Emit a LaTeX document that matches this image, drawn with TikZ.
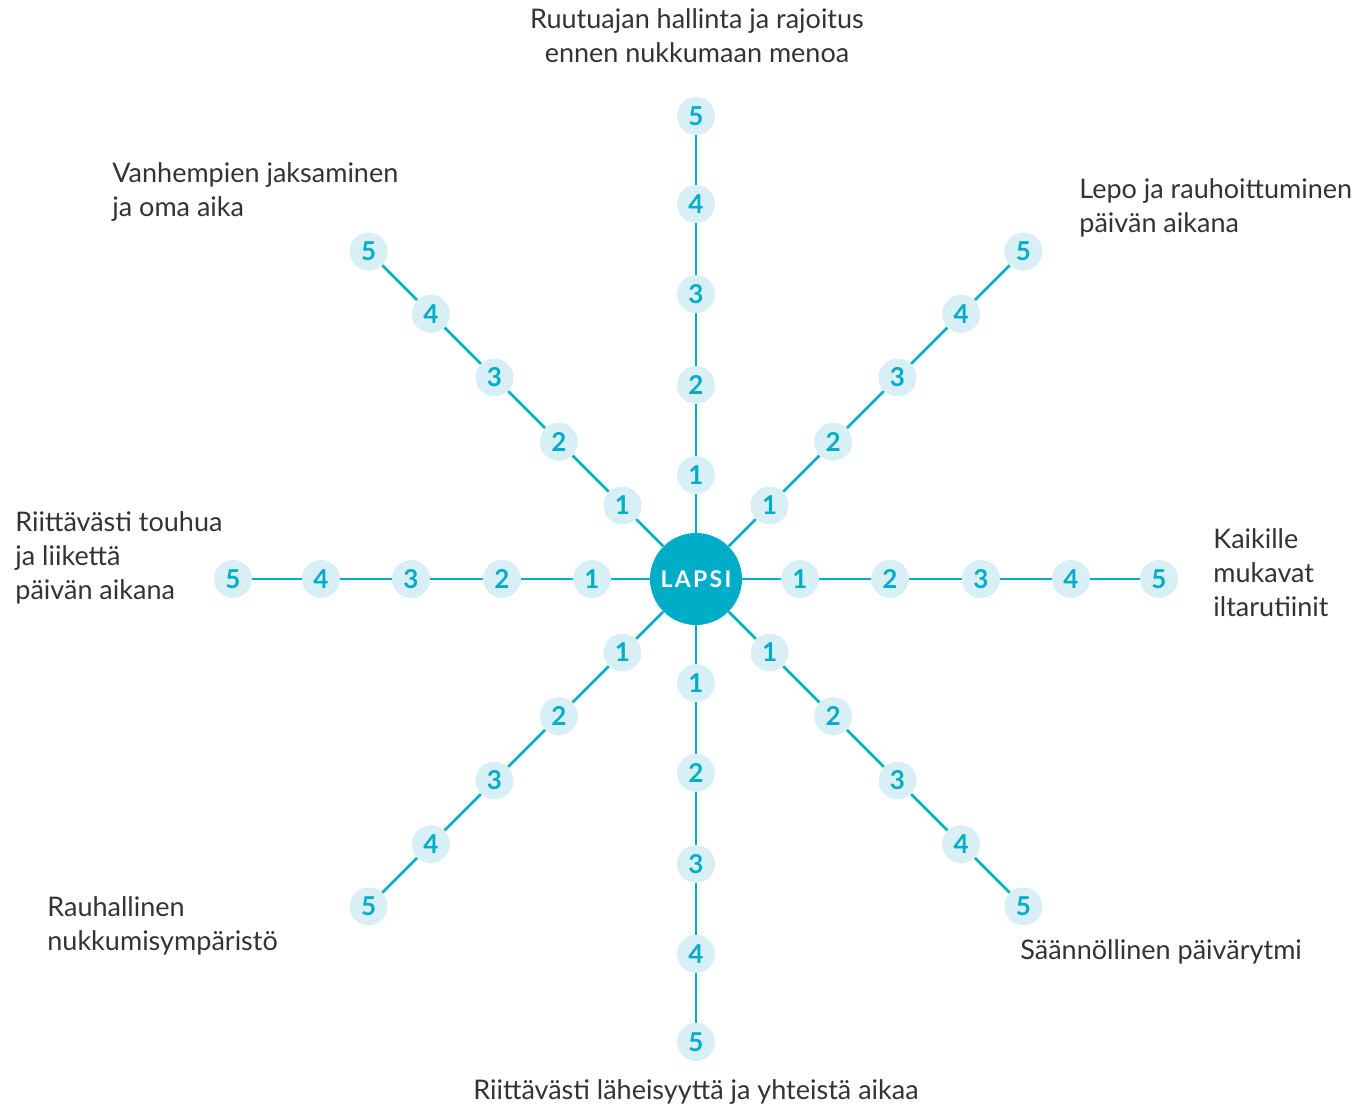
\documentclass[tikz,border=0pt]{standalone}
\usepackage{fontspec}
\setmainfont{Lato}
\usetikzlibrary{positioning}
\definecolor{lapsiteal}{HTML}{00ADC9}
\definecolor{dotfill}{HTML}{D8F0F5}
\definecolor{labelgrey}{HTML}{333333}
\tikzset{
  spoke/.style={draw=lapsiteal, line width=1.3pt},
  dot/.style={circle, fill=dotfill, minimum size=19pt, inner sep=0pt, text=lapsiteal, font=\bfseries\fontsize{13pt}{13pt}\selectfont},
  hub/.style={circle, fill=lapsiteal, minimum size=46pt, inner sep=0pt, text=white, font=\bfseries\fontsize{11.5pt}{11.5pt}\selectfont\addfontfeature{LetterSpace=10}},
  theme/.style={inner sep=0pt, text=labelgrey, align=left, font=\fontsize{13.5pt}{17pt}\selectfont}
}
\begin{document}
\begin{tikzpicture}[x=0.5pt, y=-0.5pt]
            \useasboundingbox (0,0) rectangle (1357,1106);
            \node[hub] (lapsi) at (696,579) {LAPSI};

            % five steps along each of the eight spokes
            \foreach \ang [count=\k] in {0,45,...,315} {
              \foreach \r [count=\i] in {104,194,285,375,463}
                \node[dot] (s\k-\i) at ([shift={(\ang:\r)}]lapsi.center) {\i};
              \draw[spoke] (lapsi) -- (s\k-1);
              \foreach \i [count=\j from 2] in {1,...,4}
                \draw[spoke] (s\k-\i) -- (s\k-\j);
            }

            \node[theme, anchor=north, align=center] (ruutu) at (697,8) {Ruutuajan hallinta ja rajoitus\\ennen nukkumaan menoa};
            \node[theme, anchor=north west] (vanhemmat) at (112,162) {Vanhempien jaksaminen\\ja oma aika};
            \node[theme, anchor=north west] (lepo) at (1079,178) {Lepo ja rauhoittuminen\\päivän aikana};
            \node[theme, anchor=north west] (touhu) at (15,511) {Riittävästi touhua\\ja liikettä\\päivän aikana};
            \node[theme, anchor=north west] (rutiinit) at (1213,528) {Kaikille\\mukavat\\iltarutiinit};
            \node[theme, anchor=north west] (ymparisto) at (47,896) {Rauhallinen\\nukkumisympäristö};
            \node[theme, anchor=north west] (rytmi) at (1020,939) {Säännöllinen päivärytmi};
            \node[theme, anchor=north, align=center] (laheisyys) at (696,1079) {Riittävästi läheisyyttä ja yhteistä aikaa};
            \end{tikzpicture}
\end{document}
